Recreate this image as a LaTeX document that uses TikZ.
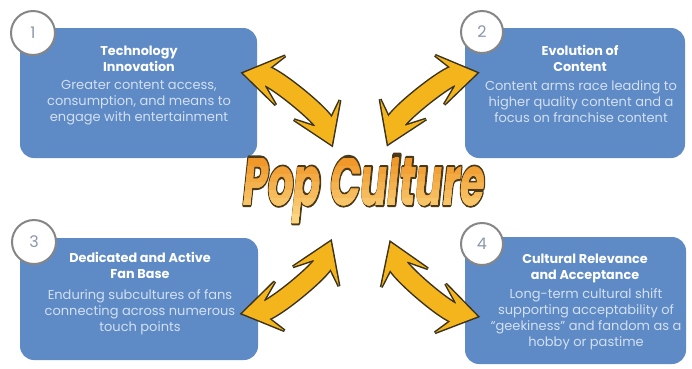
\documentclass[tikz,border=0pt]{standalone}
\usepackage{fontspec}
\usepackage{graphicx}
\setmainfont{Poppins}

\definecolor{boxblue}{HTML}{5E8AC6}
\definecolor{bodycol}{HTML}{D3E0F1}
\definecolor{ringgray}{HTML}{868686}
\definecolor{digitcol}{HTML}{8A97AC}
\definecolor{arrowfill}{HTML}{F4B41C}
\definecolor{arrowline}{HTML}{3B321E}
\definecolor{popTop}{HTML}{F0982A}
\definecolor{popBottom}{HTML}{FAD681}

% the headline word, squeezed horizontally
\newcommand{\popword}{\scalebox{0.59}[1]{\bfseries\itshape\fontsize{68}{68}\selectfont Pop Culture}}
% same word, glyphs filled and stroked with a dark brown rim
\newcommand{\poprim}{\special{pdf:literal direct 2 Tr 4.2 w 0.29 0.227 0.102 RG 1 j}\popword\special{pdf:literal direct 0 Tr}}

% one arrow head, tip at the origin, pointing along +x
\newcommand{\popHead}{(0,0) -- (-38,25) -- (-24,9) -- (-24,-9) -- (-38,-25) -- cycle}

\tikzset{
  infobox/.style={draw=none, fill=boxblue, rounded corners=14pt, inner sep=0pt},
  numring/.style={circle, draw=ringgray, line width=2pt, fill=white, inner sep=0pt,
    text=digitcol, font=\fontsize{16}{16}\selectfont},
  boxtitle/.style={inner sep=0pt, align=center, text=white,
    font=\bfseries\fontsize{12.8}{16}\selectfont},
  boxbody/.style={inner sep=0pt, align=center, text=bodycol,
    font=\fontsize{13}{16}\selectfont},
  popnode/.style={inner sep=0pt, anchor=center},
  % double-headed curved arrow, tips at (-57,0) and (57,0), bowing toward +y
  twoway/.pic={
    \begin{scope}[line join=miter, miter limit=4]
      % dark outline layer
      \draw[arrowline, line width=21pt, shorten <=20pt, shorten >=20pt]
        (-57,0) .. controls (-32,17) and (32,17) .. (57,0);
      \filldraw[arrowline, line width=3pt]
        [shift={(57,0)}, rotate=-28] \popHead;
      \filldraw[arrowline, line width=3pt]
        [shift={(-57,0)}, rotate=208] \popHead;
      % yellow body layer
      \draw[arrowfill, line width=18pt, shorten <=20pt, shorten >=20pt]
        (-57,0) .. controls (-32,17) and (32,17) .. (57,0);
      \fill[arrowfill] [shift={(57,0)}, rotate=-28] \popHead;
      \fill[arrowfill] [shift={(-57,0)}, rotate=208] \popHead;
    \end{scope}
  }
}

\begin{document}
\begin{tikzpicture}[x=1pt, y=1pt]
  \useasboundingbox[fill=white] (0,0) rectangle (692,-368);

  % the four topic panels
  \node[infobox, minimum width=237pt, minimum height=130pt] (box1) at (138.5,-93) {};
  \node[infobox, minimum width=220pt, minimum height=130pt] (box2) at (575,-93) {};
  \node[infobox, minimum width=238pt, minimum height=122pt] (box3) at (139,-299) {};
  \node[infobox, minimum width=221pt, minimum height=127pt] (box4) at (575.5,-300.5) {};

  % numbered badges
  \node[numring, minimum size=44pt] (n1) at (33,-33) {1};
  \node[numring, minimum size=42pt] (n2) at (482,-32) {2};
  \node[numring, minimum size=44pt] (n3) at (34,-242) {3};
  \node[numring, minimum size=42pt] (n4) at (482,-244) {4};

  % panel texts
  \node[boxtitle, anchor=north] (t1) at (139,-45.5) {Technology\\Innovation};
  \node[boxbody, anchor=north] (b1) at (139,-80.5) {Greater content access,\\consumption, and means to\\engage with entertainment};

  \node[boxtitle, anchor=north] (t2) at (580,-45.5) {Evolution of\\Content};
  \node[boxbody, anchor=north] (b2) at (581,-80.5) {Content arms race leading to\\higher quality content and a\\focus on franchise content};

  \node[boxtitle, anchor=north] (t3) at (140,-252.5) {Dedicated and Active\\Fan Base};
  \node[boxbody, anchor=north] (b3) at (140,-289) {Enduring subcultures of fans\\connecting across numerous\\touch points};

  \node[boxtitle, anchor=north] (t4) at (585,-254) {Cultural Relevance\\and Acceptance};
  \node[boxbody, anchor=north] (b4) at (586,-288.5) {Long-term cultural shift\\supporting acceptability of\\“geekiness” and fandom as a\\hobby or pastime};

  % curved two-way arrows around the centre word
  \pic[rotate=-39] (arrow1) at (287.5,-109) {twoway};
  \pic[rotate=38.6] (arrow2) at (432.5,-108.5) {twoway};
  \pic[rotate=219.2] (arrow3) at (286.5,-277.5) {twoway};
  \pic[rotate=139.6] (arrow4) at (434,-279.5) {twoway};

  % centre word: stroked rim first
  \node[popnode, text=popTop] (pop) at (364,-189) {\poprim};
  % vertical orange-to-yellow fill, built from stacked clipped bands
  \foreach \i in {0,...,7} {
    \pgfmathsetmacro{\mixp}{\i*100/7}
    \begin{scope}
      \clip (230,{-158-\i*8}) rectangle (500,-240);
      \node[popnode, text=popBottom!\mixp!popTop] (popband\i) at (364,-189) {\popword};
    \end{scope}
  }
\end{tikzpicture}
\end{document}
